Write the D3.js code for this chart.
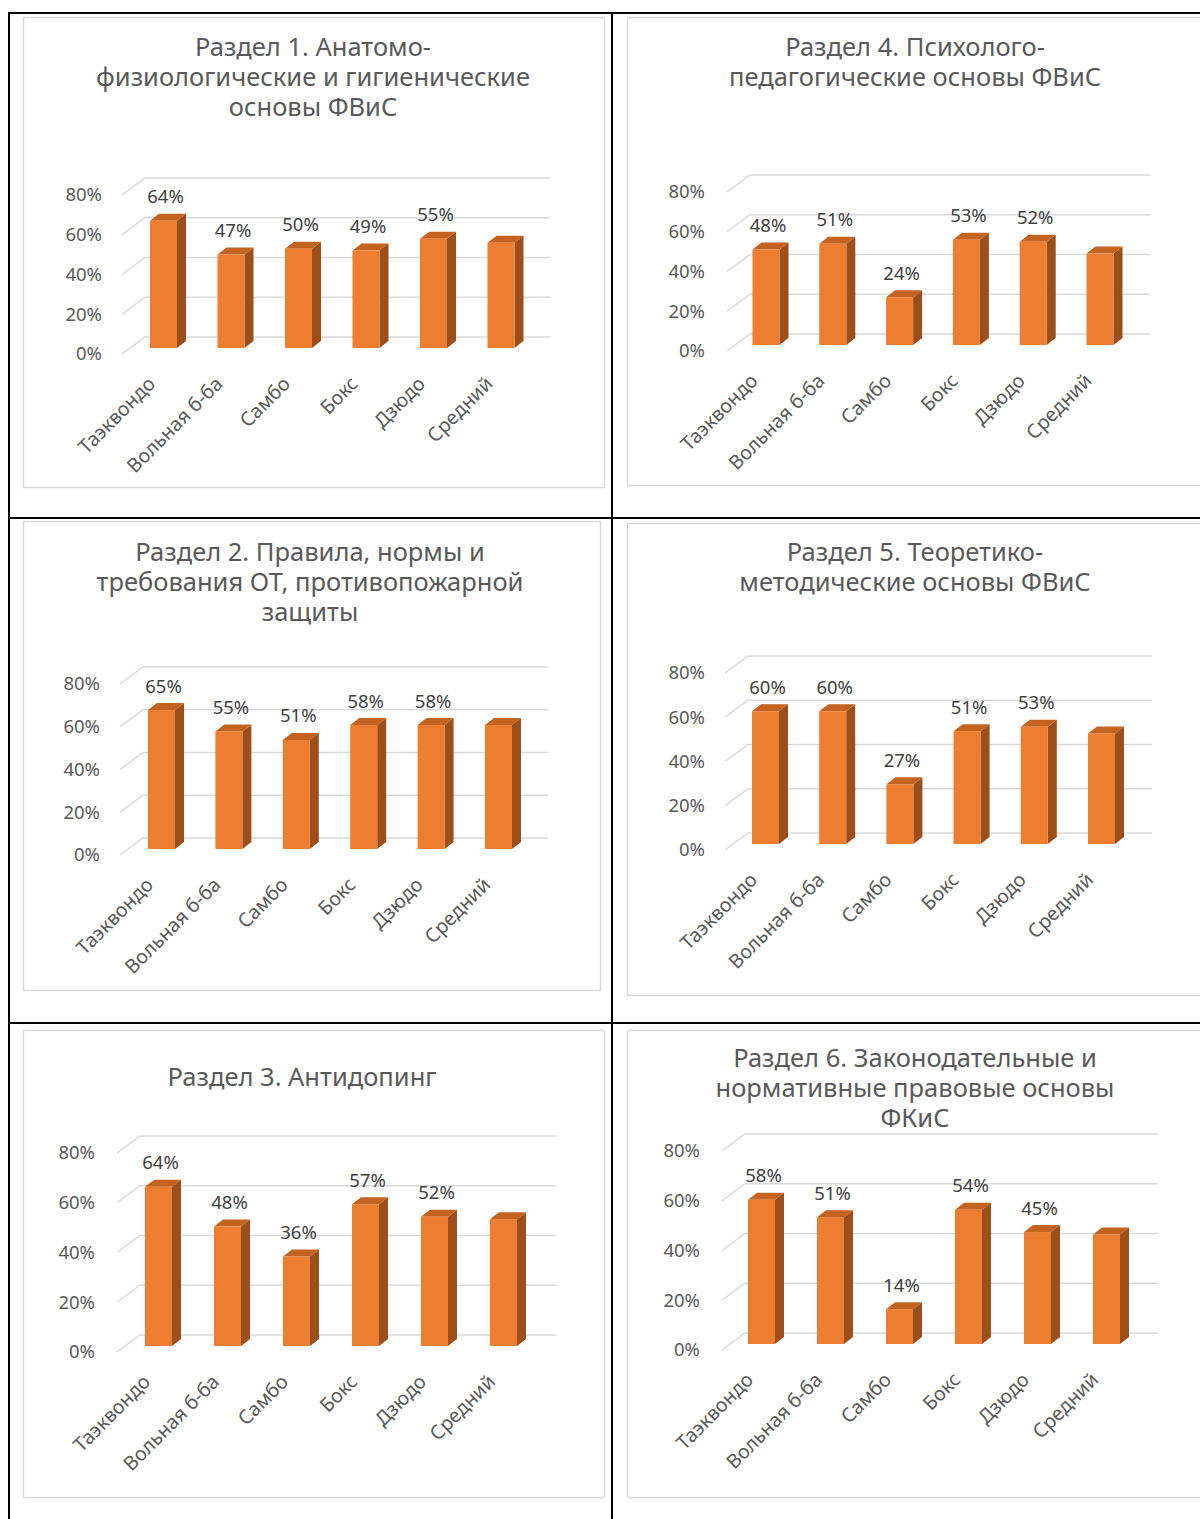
<!DOCTYPE html>
<html>
<head>
<meta charset="utf-8">
<script src="https://cdn.jsdelivr.net/npm/d3@7"></script>
<style>
  body { margin: 0; background: #fff; }
  svg { display: block; font-family: "Noto Sans", "Open Sans", sans-serif; }
</style>
</head>
<body>
<svg id="chart" width="1200" height="1519"></svg>
<script>
// Data
const categories = ['Таэквондо', 'Вольная б-ба', 'Самбо', 'Бокс', 'Дзюдо', 'Средний'];
const yTicks = [0, 0.2, 0.4, 0.6, 0.8];

const title1 = ['Раздел 1. Анатомо-', 'физиологические и гигиенические', 'основы ФВиС'];
const title2 = ['Раздел 2. Правила, нормы и', 'требования ОТ, противопожарной', 'защиты'];
const title3 = ['Раздел 3. Антидопинг'];
const title4 = ['Раздел 4. Психолого-', 'педагогические основы ФВиС'];
const title5 = ['Раздел 5. Теоретико-', 'методические основы ФВиС'];
const title6 = ['Раздел 6. Законодательные и', 'нормативные правовые основы', 'ФКиС'];

const values1 = [0.64, 0.47, 0.50, 0.49, 0.55, 0.53];
const values2 = [0.65, 0.55, 0.51, 0.58, 0.58, 0.58];
const values3 = [0.64, 0.48, 0.36, 0.57, 0.52, 0.51];
const values4 = [0.48, 0.51, 0.24, 0.53, 0.52, 0.46];
const values5 = [0.60, 0.60, 0.27, 0.51, 0.53, 0.50];
const values6 = [0.58, 0.51, 0.14, 0.54, 0.45, 0.44];

// the last bar (average) has no data label
const labelled = [true, true, true, true, true, false];

// Layout of each panel (pixels)
const panels = [
    { title: title1, values: values1, frame: [23, 17, 581, 470], titleX: 313, titleY: 47,
      labelRight: 102, backLeft: 145, backRight: 550, back0: 337, back80: 178, centers: [163.5, 501] },
    { title: title4, values: values4, frame: [627, 17, 590, 468], titleX: 915, titleY: 47,
      labelRight: 705, backLeft: 750, backRight: 1150, back0: 334, back80: 175, centers: [766, 1100] },
    { title: title2, values: values2, frame: [23, 521, 577, 469], titleX: 310, titleY: 552,
      labelRight: 100, backLeft: 143, backRight: 548, back0: 838, back80: 667, centers: [161.5, 498.5] },
    { title: title5, values: values5, frame: [627, 523, 590, 472], titleX: 915, titleY: 552,
      labelRight: 705, backLeft: 748, backRight: 1152, back0: 833, back80: 656, centers: [765.5, 1101.5] },
    { title: title3, values: values3, frame: [23, 1030, 581, 467], titleX: 302, titleY: 1077,
      labelRight: 95, backLeft: 140, backRight: 556, back0: 1335, back80: 1136, centers: [158.5, 503.5] },
    { title: title6, values: values6, frame: [627, 1030, 590, 467], titleX: 915, titleY: 1058,
      labelRight: 700, backLeft: 745, backRight: 1158, back0: 1333, back80: 1134, centers: [761.5, 1106.5] }
];

const svg = d3.select('#chart');

const barW = 27;       // front face width
const depthX = 9;      // bar depth offset
const depthY = 7;
const wallX = 23;      // floor depth of the back wall
const wallY = 17;
const pct = d3.format('.0%');

// Draw one chart
function drawPanel(p) {
    const g = svg.append('g');
    const [fx, fy, fw, fh] = p.frame;

    g.append('rect')
        .attr('x', fx + 0.5).attr('y', fy + 0.5)
        .attr('width', fw).attr('height', fh)
        .attr('fill', '#fff')
        .attr('stroke', '#d9d9d9')
        .attr('stroke-width', 1.5);

    g.append('text')
        .attr('x', p.titleX)
        .attr('y', p.titleY)
        .attr('text-anchor', 'middle')
        .attr('fill', '#595959')
        .attr('font-size', 25.5)
        .selectAll('tspan')
        .data(p.title)
        .enter()
        .append('tspan')
        .attr('x', p.titleX)
        .attr('dy', (d, i) => i === 0 ? '0.35em' : 30)
        .text(d => d);

    const y = d3.scaleLinear().domain([0, 0.8]).range([p.back0, p.back80]);
    const x = d3.scalePoint().domain(categories).range(p.centers);
    const base = y(0) + 11;

    // Back wall gridlines with the floor diagonal
    g.append('g')
        .selectAll('path')
        .data(yTicks)
        .enter()
        .append('path')
        .attr('d', d => `M${p.backLeft - wallX},${y(d) + wallY}L${p.backLeft},${y(d)}L${p.backRight},${y(d)}`)
        .attr('fill', 'none')
        .attr('stroke', '#d9d9d9')
        .attr('stroke-width', 1.5);

    // Value axis
    const axis = g.append('g')
        .attr('transform', `translate(${p.labelRight},${wallY})`)
        .call(d3.axisLeft(y).tickValues(yTicks).tickFormat(pct).tickSize(0).tickPadding(0));
    axis.select('.domain').remove();
    axis.selectAll('text')
        .attr('fill', '#595959')
        .attr('font-size', 18.5)
        .attr('font-family', '"Noto Sans", sans-serif');

    // Bars
    const bars = g.append('g')
        .selectAll('g')
        .data(p.values)
        .enter()
        .append('g');

    bars.append('path')
        .attr('d', (d, i) => {
            const x1 = x(categories[i]) + barW / 2;
            const top = base - (y(0) - y(d));
            return `M${x1},${base}L${x1 + depthX},${base - depthY}L${x1 + depthX},${top - depthY}L${x1},${top}Z`;
        })
        .attr('fill', '#9c4f1b');

    bars.append('path')
        .attr('d', (d, i) => {
            const x0 = x(categories[i]) - barW / 2;
            const top = base - (y(0) - y(d));
            return `M${x0},${top}L${x0 + depthX},${top - depthY}L${x0 + barW + depthX},${top - depthY}L${x0 + barW},${top}Z`;
        })
        .attr('fill', '#c4621f');

    bars.append('rect')
        .attr('x', (d, i) => x(categories[i]) - barW / 2)
        .attr('y', d => base - (y(0) - y(d)))
        .attr('width', barW)
        .attr('height', d => y(0) - y(d))
        .attr('fill', '#ed7d31');

    // Data labels
    g.append('g')
        .selectAll('text')
        .data(p.values.filter((d, i) => labelled[i]))
        .enter()
        .append('text')
        .attr('x', (d, i) => x(categories[i]) + 2)
        .attr('y', d => base - (y(0) - y(d)) - 24)
        .attr('dy', '0.35em')
        .attr('text-anchor', 'middle')
        .attr('fill', '#404040')
        .attr('font-size', 18.5)
        .text(d => pct(d));

    // Category labels
    g.append('g')
        .selectAll('text')
        .data(categories)
        .enter()
        .append('text')
        .attr('transform', d => `translate(${x(d) - 7},${base + 37}) rotate(-45)`)
        .attr('text-anchor', 'end')
        .attr('fill', '#595959')
        .attr('font-size', 19.5)
        .text(d => d);
}

panels.forEach(drawPanel);

// Outer table lines
const lines = [
    [8, 13, 1200, 13],
    [8, 518, 1200, 518],
    [8, 1023, 1200, 1023],
    [9, 13, 9, 1519],
    [612, 13, 612, 1519]
];
svg.append('g')
    .selectAll('line')
    .data(lines)
    .enter()
    .append('line')
    .attr('x1', d => d[0]).attr('y1', d => d[1])
    .attr('x2', d => d[2]).attr('y2', d => d[3])
    .attr('stroke', '#000')
    .attr('stroke-width', 2);
</script>
</body>
</html>
